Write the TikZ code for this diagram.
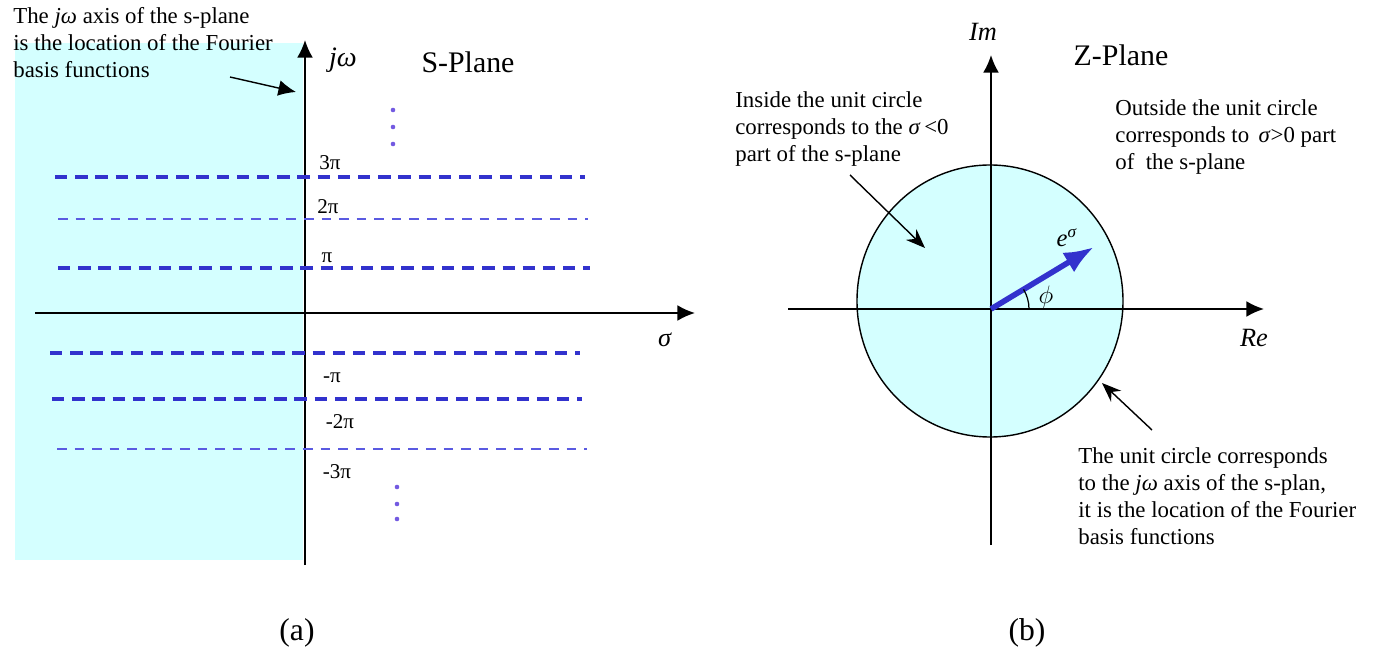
\documentclass[tikz,border=0pt]{standalone}
\usepackage{fontspec}
\setmainfont{Liberation Serif}
\usepackage{amsmath}
\usetikzlibrary{arrows.meta,calc}
\definecolor{planecyan}{RGB}{212,255,255}
\definecolor{lineblue}{RGB}{50,50,205}
\definecolor{thinblue}{RGB}{90,90,225}
\definecolor{dotblue}{RGB}{115,90,225}

\begin{document}
\begin{tikzpicture}[x=0.02cm,y=-0.02cm,>={Latex[length=10pt,width=9pt]}]
			\tikzstyle{axis}=[line width=1pt,->]
			\tikzstyle{thickdash}=[lineblue,line width=2.2pt,dash pattern=on 7pt off 4.5pt]
			\tikzstyle{thindash}=[thinblue,line width=1.1pt,dash pattern=on 5.5pt off 4.5pt]
			\tikzstyle{note}=[align=left,inner sep=0pt,anchor=north west,font=\fontsize{13}{15.3}\selectfont]
			\tikzstyle{pointer}=[line width=0.8pt,-{Stealth[length=11pt,width=8.5pt]}]
			\tikzstyle{tick}=[inner sep=0pt,font=\fontsize{12}{14}\selectfont]

			\useasboundingbox (0,0) rectangle (1377,655);

			% s-plane
			\coordinate (S0) at (305,313);
			\fill [planecyan] (15,43) rectangle (303,560);

			\coordinate (sLeft) at ($(S0)+(-270,0)$);
			\coordinate (sRight) at ($(S0)+(390,0)$);
			\coordinate (wDown) at ($(S0)+(0,252)$);
			\coordinate (wUp) at ($(S0)+(0,-273)$);
			\draw [axis] (sLeft) -- (sRight);
			\draw [axis] (wDown) -- (wUp);

			\foreach \y/\a/\b/\s in {177/55/585/thickdash, 219/58/588/thindash, 268/58/590/thickdash, 353/50/580/thickdash, 399/52/582/thickdash, 449/57/587/thindash}
				\draw [\s] (\a,\y) -- (\b,\y);

			\foreach \x/\y/\t [count=\i] in {330/163/3π, 328/207/2π, 327/258/π, 332/378/-π, 340/422/-2π, 337/472/-3π}
				\node (tick\i) [tick] at (\x,\y) {\t};

			\foreach \y in {110,127,144}
				\fill [dotblue] (393,\y) circle (2.3);
			\foreach \y in {487,504,519}
				\fill [dotblue] (397,\y) circle (2.3);

			\node (jw) [font=\fontsize{16}{18}\selectfont] at ($(S0)+(38,-253)$) {\textit{jω}};
			\node (sigma) [font=\fontsize{15}{17}\selectfont] at ($(S0)+(360,27)$) {\textit{σ}};
			\node (sTitle) [font=\fontsize{17}{19}\selectfont] at (468,62) {S-Plane};

			\node (aNote) [note] at (13,7.5) {The \textit{jω} axis of the s-plane\\is the location of the Fourier\\basis functions};
			\coordinate (aTail) at (230,77);
			\coordinate (aHead) at (296,92);
			\draw [line width=0.8pt,->] (aTail) -- (aHead);

			\node (capA) [font=\fontsize{18}{20}\selectfont] at (297,633) {(a)};

			% z-plane
			\coordinate (Z0) at (991,309);
			\filldraw [fill=planecyan, line width=0.8pt] (990,301) ellipse [x radius=133, y radius=136];

			\coordinate (reLeft) at ($(Z0)+(-203,0)$);
			\coordinate (reRight) at ($(Z0)+(273,0)$);
			\coordinate (imDown) at ($(Z0)+(0,236)$);
			\coordinate (imUp) at ($(Z0)+(0,-254)$);
			\draw [axis] (reLeft) -- (reRight);
			\draw [axis] (imDown) -- (imUp);

			\coordinate (eTip) at ($(Z0)+(103,-62)$);
			\draw [lineblue, line width=3.2pt, -{Latex[length=17pt,width=13pt]}] (Z0) -- (eTip);
			\draw [line width=0.7pt] ($(Z0)+(38,0)$) arc [start angle=0, end angle=-31, radius=38];

			\node (expo) [font=\fontsize{14}{16}\selectfont] at (1067,238) {\textit{e}\textsuperscript{\textit{σ}}};
			\node (phi) [font=\fontsize{14}{16}\selectfont] at (1046,297) {$\phi$};
			\node (im) [font=\fontsize{15}{17}\selectfont] at (983,32) {\textit{Im}};
			\node (re) [font=\fontsize{15}{17}\selectfont] at (1254,338) {\textit{Re}};
			\node (zTitle) [font=\fontsize{17}{19}\selectfont] at (1121,55) {Z-Plane};

			\node (inNote) [note] at (735,91.5) {Inside the unit circle\\corresponds to the \textit{σ}\,<0\\part of the s-plane};
			\node (outNote) [note] at (1115,99.5) {Outside the unit circle\\corresponds to \,\textit{σ}>0 part\\of \ the s-plane};
			\node (unitNote) [note] at (1078,447.5) {The unit circle corresponds\\to the \textit{jω} axis of the s-plan,\\it is the location of the Fourier\\basis functions};

			\coordinate (inTail) at (850,175);
			\coordinate (inHead) at (925,248);
			\draw [pointer] (inTail) -- (inHead);
			\coordinate (unitTail) at (1152,430);
			\coordinate (unitHead) at (1102,383);
			\draw [pointer] (unitTail) -- (unitHead);

			\node (capB) [font=\fontsize{18}{20}\selectfont] at (1027,633) {(b)};
		\end{tikzpicture}
\end{document}
